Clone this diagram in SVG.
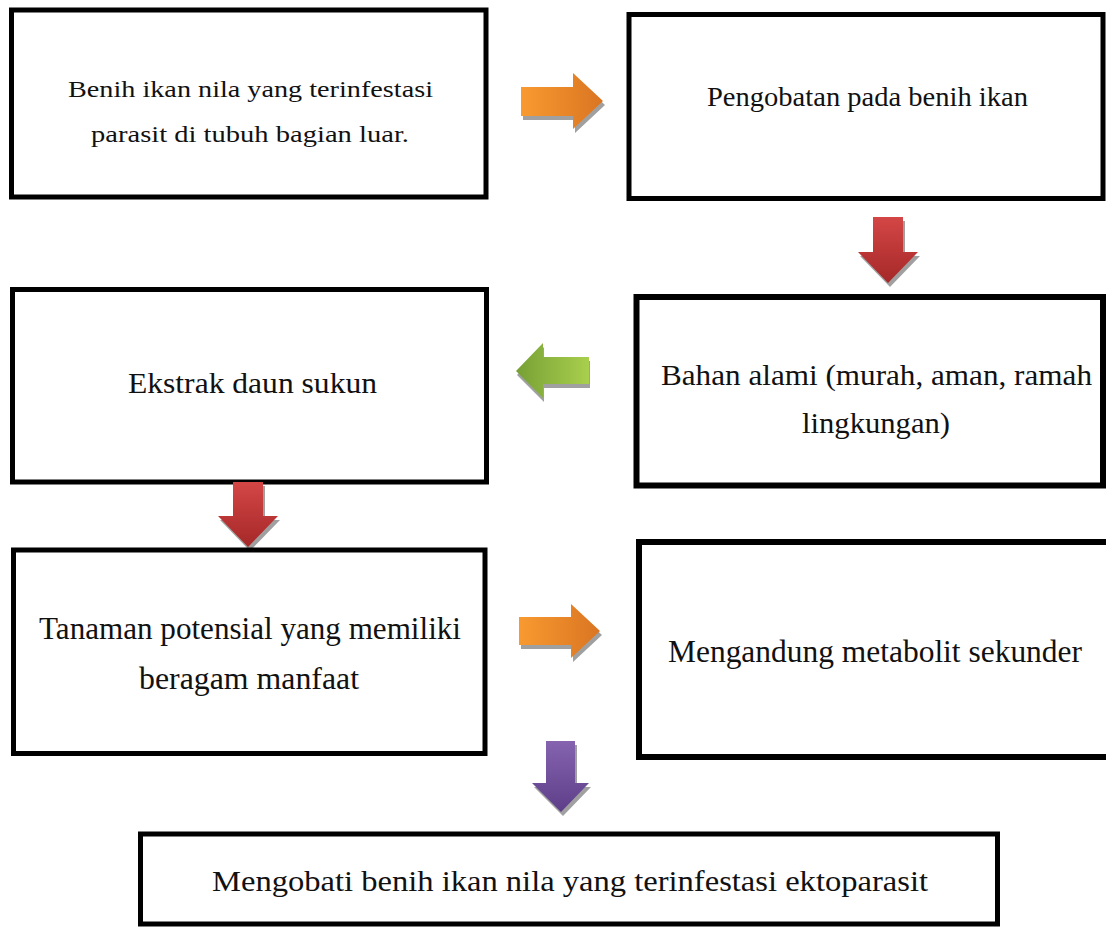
<svg xmlns="http://www.w3.org/2000/svg" width="1106" height="927" viewBox="0 0 1106 927">
<style>
.box{fill:#fff;stroke:#000;stroke-width:5}
.box6{stroke-width:6}
.t{font-family:"Liberation Serif","Times New Roman",serif;fill:#111}
.sh{fill:#a0a0a0}
</style>
<defs>
<linearGradient id="gOr" x1="0" y1="0" x2="1" y2="0"><stop offset="0" stop-color="#F89A30"/><stop offset="1" stop-color="#DA7522"/></linearGradient>
<linearGradient id="gRd" x1="0" y1="0" x2="0" y2="1"><stop offset="0" stop-color="#D44646"/><stop offset="1" stop-color="#A52828"/></linearGradient>
<linearGradient id="gGr" x1="0" y1="0" x2="1" y2="0"><stop offset="0" stop-color="#76A035"/><stop offset="1" stop-color="#A9CF4D"/></linearGradient>
<linearGradient id="gPu" x1="0" y1="0" x2="0" y2="1"><stop offset="0" stop-color="#8563AF"/><stop offset="1" stop-color="#5E3E89"/></linearGradient>
</defs>
<rect width="1106" height="927" fill="#fff"/>
<g id="node-benih">
<rect class="box" x="11.5" y="10" width="474.5" height="187"/>
<text class="t" font-size="23.5" x="68" y="97" textLength="365" lengthAdjust="spacingAndGlyphs">Benih ikan nila yang terinfestasi</text>
<text class="t" font-size="23.5" x="91" y="142" textLength="318" lengthAdjust="spacingAndGlyphs">parasit di tubuh bagian luar.</text>
</g>
<g id="node-pengobatan">
<rect class="box" x="629" y="14.5" width="474" height="184"/>
<text class="t" font-size="26.5" x="707" y="106" textLength="321" lengthAdjust="spacingAndGlyphs">Pengobatan pada benih ikan</text>
</g>
<g id="node-ekstrak">
<rect class="box" x="12.5" y="289.5" width="474" height="192.5"/>
<text class="t" font-size="29.5" x="128" y="393" textLength="249" lengthAdjust="spacingAndGlyphs">Ekstrak daun sukun</text>
</g>
<g id="node-bahan">
<rect class="box box6" x="636.5" y="297" width="466.5" height="188.5"/>
<text class="t" font-size="29.5" x="661" y="385" textLength="431" lengthAdjust="spacingAndGlyphs">Bahan alami (murah, aman, ramah</text>
<text class="t" font-size="29.5" x="802" y="433" textLength="148" lengthAdjust="spacingAndGlyphs">lingkungan)</text>
</g>
<g id="connectors">
<polygon class="sh" transform="translate(2,4)" points="521,87 573,87 573,73 603,101 573,129 573,116 521,116"/>
<polygon fill="url(#gOr)" points="521,87 573,87 573,73 603,101 573,129 573,116 521,116"/>
<polygon class="sh" transform="translate(2,4)" points="873,217 903,217 903,252 918,252 888,283 858,252 873,252"/>
<polygon fill="url(#gRd)" points="873,217 903,217 903,252 918,252 888,283 858,252 873,252"/>
<polygon class="sh" transform="translate(1,4)" points="589,357 543,357 543,343 516,371 543,398 543,384 589,384"/>
<polygon fill="url(#gGr)" points="589,357 543,357 543,343 516,371 543,398 543,384 589,384"/>
<polygon class="sh" transform="translate(2,4)" points="233,482 263,482 263,516 278,516 248,547 218,516 233,516"/>
<polygon fill="url(#gRd)" points="233,482 263,482 263,516 278,516 248,547 218,516 233,516"/>
<polygon class="sh" transform="translate(2,4)" points="519,617 571,617 571,604 600,631 571,658 571,645 519,645"/>
<polygon fill="url(#gOr)" points="519,617 571,617 571,604 600,631 571,658 571,645 519,645"/>
<polygon class="sh" transform="translate(2,4)" points="546,741 575,741 575,783 589,783 561,812 532,783 546,783"/>
<polygon fill="url(#gPu)" points="546,741 575,741 575,783 589,783 561,812 532,783 546,783"/>
</g>
<g id="node-tanaman">
<rect class="box" x="13.5" y="550" width="471.5" height="203.5"/>
<text class="t" font-size="31" x="39" y="639" textLength="422" lengthAdjust="spacingAndGlyphs">Tanaman potensial yang memiliki</text>
<text class="t" font-size="31" x="139" y="689" textLength="220" lengthAdjust="spacingAndGlyphs">beragam manfaat</text>
</g>
<g id="node-mengandung">
<rect class="box box6" x="639" y="542" width="475" height="215"/>
<text class="t" font-size="30.5" x="668" y="662" textLength="414" lengthAdjust="spacingAndGlyphs">Mengandung metabolit sekunder</text>
</g>
<g id="node-mengobati">
<rect class="box" x="140.5" y="834" width="857" height="90"/>
<text class="t" font-size="29" x="212" y="891" textLength="716" lengthAdjust="spacingAndGlyphs">Mengobati benih ikan nila yang terinfestasi ektoparasit</text>
</g>
</svg>
